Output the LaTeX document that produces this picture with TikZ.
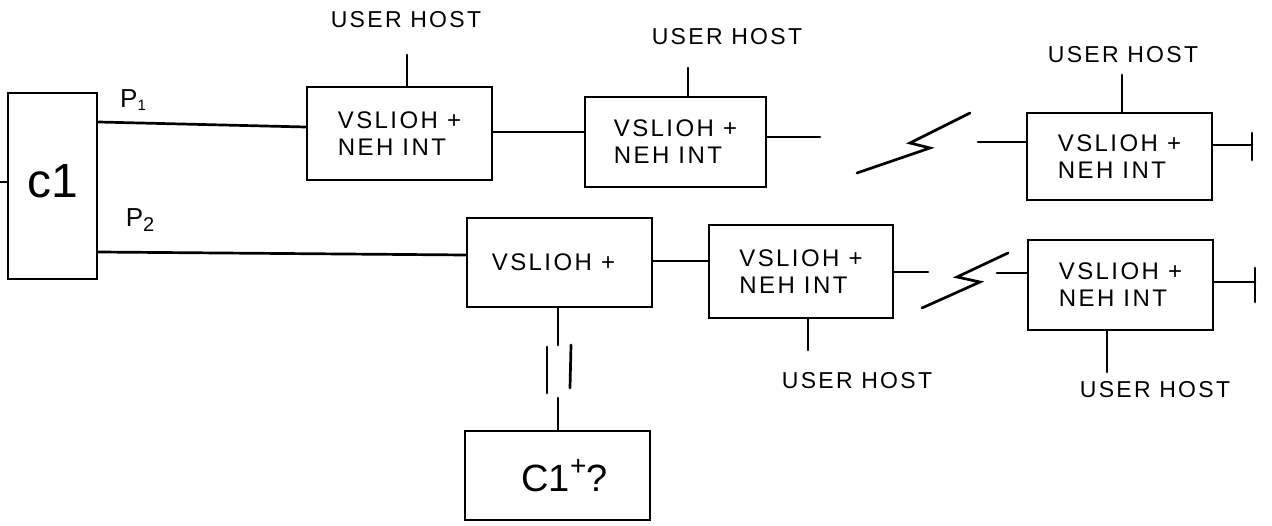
\documentclass[tikz,border=0pt]{standalone}
\usepackage{fontspec}
\setmainfont{Liberation Sans}
\newfontfamily\hand[LetterSpace=10]{Liberation Sans}
\begin{document}
\begin{tikzpicture}[x=1pt,y=-1pt,line cap=round,
  wire/.style={line width=2.7pt},
  box/.style={draw,line width=2.8pt,inner sep=0pt,align=left,
    font=\hand\fontsize{24}{27}\selectfont},
  hostlbl/.style={inner sep=0pt,font=\hand\fontsize{23}{26}\selectfont},
  plbl/.style={inner sep=0pt,font=\hand\fontsize{26}{28}\selectfont}]
\useasboundingbox (0,0) rectangle (1272,526);

% boxes
\node[box,minimum width=89pt,minimum height=186pt,font=\fontsize{48}{56}\selectfont] (c1) at (52.5,186) {\raisebox{10pt}{c1}};
\node[box,minimum width=185pt,minimum height=93pt] (b1) at (399.5,133.5) {VSLIOH +\\NEH INT};
\node[box,minimum width=181pt,minimum height=90pt] (b2) at (675.5,142) {VSLIOH +\\NEH INT};
\node[box,minimum width=185pt,minimum height=87pt] (b3) at (1119.5,156.5) {VSLIOH +\\NEH INT};
\node[box,minimum width=185pt,minimum height=89pt] (b4) at (559.5,262.5) {VSLIOH +\hspace*{12pt}};
\node[box,minimum width=184pt,minimum height=93pt] (b5) at (801,271.5) {VSLIOH +\\NEH INT};
\node[box,minimum width=185pt,minimum height=90pt] (b6) at (1120.5,285) {VSLIOH +\\NEH INT};
\node[box,minimum width=185pt,minimum height=89pt,font=\fontsize{38}{44}\selectfont] (b7) at (557.5,475.5) {\raisebox{-8pt}{\hspace*{14pt}C1\raisebox{0.42em}{\fontsize{28}{28}\selectfont +}?}};

% labels
\node[plbl] (p1) at (133,100) {P\raisebox{-3pt}{\fontsize{15}{15}\selectfont 1}};
\node[plbl] (p2) at (140,220) {P\raisebox{-5pt}{\fontsize{20}{20}\selectfont 2}};
\node[hostlbl] (u1) at (406,20) {USER HOST};
\node[hostlbl] (u2) at (727,37) {USER HOST};
\node[hostlbl] (u3) at (1123,55) {USER HOST};
\node[hostlbl] (u5) at (857,381) {USER HOST};
\node[hostlbl] (u6) at (1155,390) {USER HOST};

% free ends
\coordinate (s0) at (0,182);
\coordinate (e2) at (820,137);
\coordinate (e3) at (1252,145);
\coordinate (e5) at (928,272);
\coordinate (e6) at (1255,282);
\coordinate (k3) at (978,142);
\coordinate (k6) at (997,273);

% connectors
\draw[wire] (s0) -- (s0 -| c1.west);
\draw[wire] (c1.east |- 0,122) -- (b1.west |- 0,127);
\draw[wire] (c1.east |- 0,252) -- (b4.west |- 0,255);
\draw[wire] (b1.east |- 0,132) -- (b2.west |- 0,132);
\draw[wire] (b2.east |- e2) -- (e2);
\draw[wire] (k3) -- (b3.west |- k3);
\draw[wire] (b3.east |- e3) -- (e3);
\draw[wire] (1252,133) -- (1252,160);
\draw[wire] (b4.east |- 0,261) -- (b5.west |- 0,261);
\draw[wire] (b5.east |- e5) -- (e5);
\draw[wire] (k6) -- (b6.west |- k6);
\draw[wire] (b6.east |- e6) -- (e6);
\draw[wire] (1255,268) -- (1255,302);

% break symbols
\draw[wire] (857,173) -- (930,148) -- (910,143) -- (970,113);
\draw[wire] (922,308) -- (980,282) -- (957,277) -- (1008,253);

% user host leads
\draw[wire] (b1.north -| 407,0) -- (407,55);
\draw[wire] (b2.north -| 688,0) -- (688,68);
\draw[wire] (b3.north -| 1122,0) -- (1122,75);
\draw[wire] (b5.south -| 808,0) -- (808,350);
\draw[wire] (b6.south -| 1107,0) -- (1107,372);

% C1+? link
\draw[wire] (b4.south -| 558,0) -- (558,345);
\draw[wire] (547,347) -- (547,393);
\draw[wire] (571,345) -- (570,388);
\draw[wire] (558,398) -- (b7.north -| 558,0);
\end{tikzpicture}
\end{document}
